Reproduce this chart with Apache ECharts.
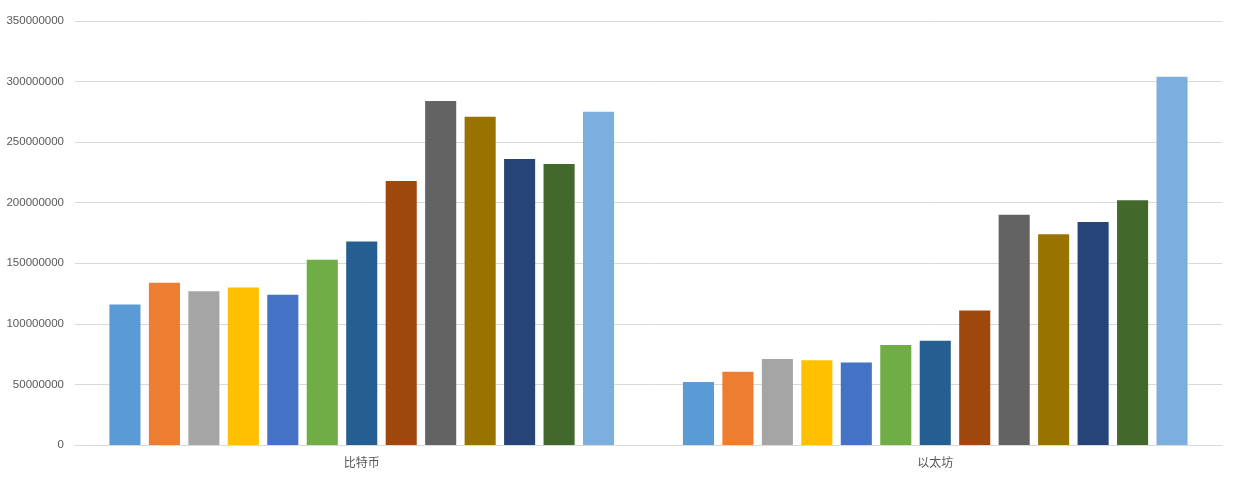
<!DOCTYPE html>
<html>
<head>
<meta charset="utf-8">
<script src="https://cdn.jsdelivr.net/npm/echarts@6/dist/echarts.min.js"></script>
<style>html,body{margin:0;padding:0;background:#fff;}#c{width:1236px;height:480px;}</style>
</head>
<body>
<div id="c"></div>
<script>
const categories = ['比特币', '以太坊'];
const seriesNames = ['系列1','系列2','系列3','系列4','系列5','系列6','系列7','系列8','系列9','系列10','系列11','系列12','系列13'];
const bitcoinValues = [116000000, 134000000, 127000000, 130000000, 124000000, 153000000, 168000000, 218000000, 284000000, 271000000, 236000000, 232000000, 275000000];
const ethereumValues = [52000000, 60500000, 71000000, 70000000, 68000000, 82500000, 86000000, 111000000, 190000000, 174000000, 184000000, 202000000, 304000000];
const colors = ['#5B9BD5','#ED7D31','#A5A5A5','#FFC000','#4472C4','#70AD47','#255E91','#9E480E','#636363','#997300','#264478','#43682B','#7CAFDD'];
const yTicks = { min: 0, max: 350000000, interval: 50000000 };

const chart = echarts.init(document.getElementById('c'), null, { renderer: 'canvas' });
chart.setOption({
  animation: false,
  color: colors,
  grid: { left: 75, right: 14, top: 21, bottom: 35, containLabel: false },
  xAxis: {
    type: 'category',
    data: categories,
    axisLine: { lineStyle: { color: '#d9d9d9' } },
    axisTick: { show: false },
    axisLabel: { color: '#595959', fontSize: 12, margin: 11, fontFamily: 'Noto Sans CJK SC' }
  },
  yAxis: {
    type: 'value',
    min: yTicks.min, max: yTicks.max, interval: yTicks.interval,
    axisLine: { show: false },
    axisTick: { show: false },
    splitLine: { lineStyle: { color: '#d9d9d9' } },
    axisLabel: { color: '#595959', fontSize: 11.5, margin: 11, fontFamily: 'Liberation Sans', formatter: v => String(v) }
  },
  series: seriesNames.map((n, i) => ({
    name: n,
    type: 'bar',
    barGap: '27%',
    barCategoryGap: '12%',
    data: [bitcoinValues[i], ethereumValues[i]]
  }))
});
</script>
</body>
</html>
